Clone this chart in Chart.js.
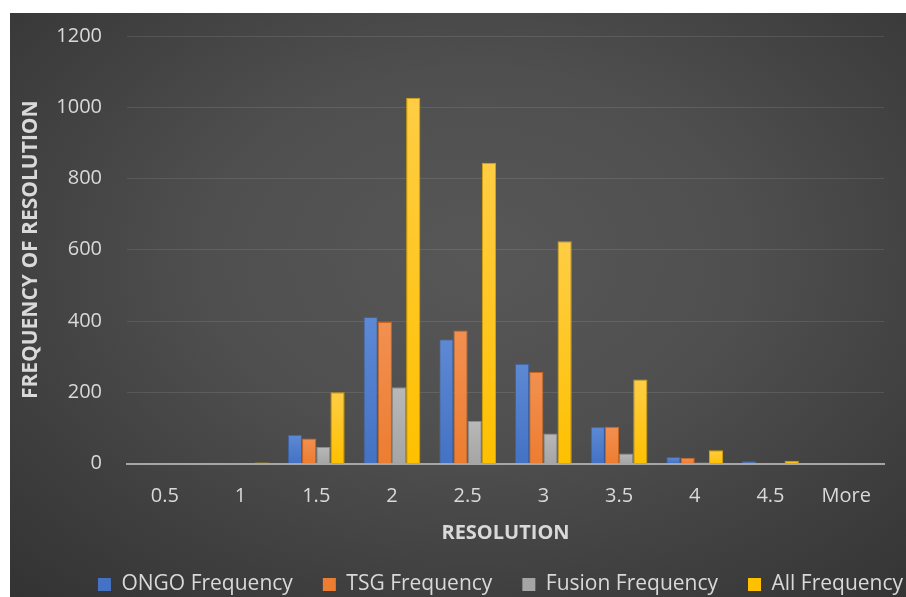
<!DOCTYPE html>
<html>
<head>
<meta charset="utf-8">
<script src="https://cdn.jsdelivr.net/npm/chart.js@4/dist/chart.umd.min.js"></script>
<style>
  html, body { margin: 0; padding: 0; background: #ffffff; }
  #frame {
    position: absolute; left: 10px; top: 13px;
    width: 896px; height: 584px; overflow: hidden;
    background: radial-gradient(ellipse 75% 80% at 52% 42%, #575757 0%, #4f4f4f 40%, #3e3e3e 75%, #333333 100%);
  }
  #chart { position: absolute; left: 0; top: 0; }
</style>
</head>
<body>
<div id="frame"><canvas id="chart" width="981" height="592"></canvas></div>
<script>
// Histogram of resolution values per gene group
const categories = ['0.5', '1', '1.5', '2', '2.5', '3', '3.5', '4', '4.5', 'More'];
const seriesNames = ['ONGO Frequency', 'TSG Frequency', 'Fusion Frequency', 'All Frequency'];
const ongoFreq   = [0, 0, 81, 411, 349, 280, 103, 18, 6, 0];
const tsgFreq    = [0, 1, 70, 397, 373, 257, 103, 16, 2, 0];
const fusionFreq = [0, 0, 46, 214, 119, 84, 28, 3, 0, 1];
const allFreq    = [0, 3, 200, 1027, 844, 624, 236, 37, 8, 1];
const yMin = 0, yMax = 1200, yStep = 200;

const solid  = ['#4472C4', '#ED7D31', '#A5A5A5', '#FFC000'];
const light  = ['#5D89D4', '#F29050', '#B8B8B8', '#FFCD45'];
const edge   = ['#3A62A8', '#C9651F', '#8C8C8C', '#D9A300'];
const textColor = '#D9D9D9';

// each bar gets its own vertical gradient, lighter at the top
function barFill(i) {
  return (c) => {
    const chart = c.chart;
    const y = chart.scales && chart.scales.y;
    if (!y || c.raw == null || c.type !== 'data') return solid[i];
    const top = y.getPixelForValue(c.raw);
    const base = y.getPixelForValue(0);
    if (!isFinite(top) || !isFinite(base) || base - top < 2) return solid[i];
    const g = chart.ctx.createLinearGradient(0, top, 0, base);
    g.addColorStop(0, light[i]);
    g.addColorStop(1, solid[i]);
    return g;
  };
}

const values = [ongoFreq, tsgFreq, fusionFreq, allFreq];
const datasets = seriesNames.map((name, i) => ({
  label: name,
  data: values[i],
  backgroundColor: barFill(i),
  borderColor: edge[i],
  borderWidth: 1,
  borderSkipped: 'bottom'
}));

Chart.defaults.font.family = '"Open Sans", sans-serif';
Chart.defaults.color = textColor;

new Chart(document.getElementById('chart'), {
  type: 'bar',
  data: { labels: categories, datasets },
  options: {
    responsive: false,
    animation: false,
    devicePixelRatio: 1,
    datasets: { bar: { categoryPercentage: 0.75, barPercentage: 1.0 } },
    layout: { padding: { top: 23, left: 0, right: 0, bottom: 0 } },
    scales: {
      x: {
        grid: { display: false, drawTicks: false },
        border: { display: true, color: '#A6A6A6', width: 2 },
        ticks: { color: textColor, font: { size: 20 }, padding: 20.5, maxRotation: 0 },
        title: {
          display: true, text: 'RESOLUTION', color: textColor,
          font: { size: 20, weight: 'bold', lineHeight: 0.5 },
          padding: { top: 0, bottom: 5.5 }
        }
      },
      y: {
        min: yMin, max: yMax,
        grid: {
          drawTicks: false,
          color: (c) => (c.tick && c.tick.value === 0) ? 'rgba(0,0,0,0)' : 'rgba(255,255,255,0.10)',
          lineWidth: 1
        },
        border: { display: false },
        ticks: {
          stepSize: yStep, color: textColor, font: { size: 20 }, padding: 25,
          callback: (v) => String(v)
        },
        title: {
          display: true, text: 'FREQUENCY OF RESOLUTION', color: textColor,
          font: { size: 21, weight: 'bold', lineHeight: 1 },
          padding: { top: 10.5, bottom: 0 }
        },
        afterFit: (s) => { s.width = 117; s.paddingTop = 0; s.paddingBottom = 0; }
      },
      // empty right-hand gutter so the legend row sits where it does
      gutter: {
        type: 'linear', position: 'right', display: true,
        grid: { display: false, drawTicks: false },
        border: { display: false },
        ticks: { display: false },
        afterFit: (s) => { s.width = 107; }
      }
    },
    plugins: {
      tooltip: { enabled: false },
      legend: {
        position: 'bottom',
        labels: {
          color: textColor,
          font: { size: 21 },
          boxWidth: 13, boxHeight: 13,
          padding: 30,
          generateLabels: (chart) =>
            Chart.defaults.plugins.legend.labels.generateLabels(chart).map((l, i) => ({
              ...l, fillStyle: solid[i], strokeStyle: solid[i], lineWidth: 0
            }))
        }
      }
    }
  }
});
</script>
</body>
</html>
